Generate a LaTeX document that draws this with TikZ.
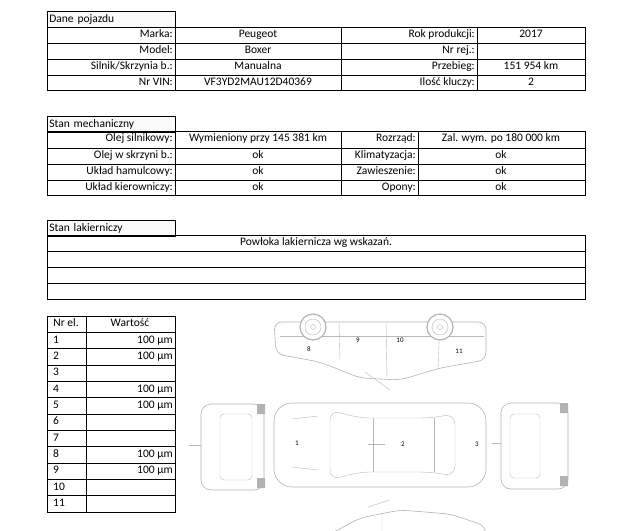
\documentclass[tikz,border=0pt]{standalone}
\usepackage{fontspec}
\setmainfont{Carlito}
\usetikzlibrary{positioning}

\begin{document}
\begin{tikzpicture}[x=1pt, y=-1pt,
    every node/.style={font=\fontsize{11.5}{12}\selectfont, inner sep=1pt, text height=1.6ex, text depth=0.4ex},
    grid/.style={line width=0.7pt},
    hdr/.style={draw, grid, fill=gray!4, anchor=north west, minimum width=128pt, minimum height=16pt, text width=124pt, align=left},
    lab/.style={anchor=east},
    val/.style={anchor=center},
    car/.style={draw=gray!60, line width=0.6pt, rounded corners=8pt},
    carl/.style={draw=gray!55, line width=0.4pt},
    num/.style={font=\fontsize{7}{8}\selectfont},
]
\useasboundingbox (0,0) rectangle (631,530);

% Dane pojazdu
\node[hdr] (hdane) at (47,11) {Dane pojazdu};
\draw[grid] (47,27) rectangle (585,90);
\foreach \y in {43,59,75} \draw[grid] (47,\y) -- (585,\y);
\foreach \x in {175,341,477} \draw[grid] (\x,27) -- (\x,90);
\node[lab] (marka) at (174,35) {Marka:};
\node[lab] (model) at (174,51) {Model:};
\node[lab] (silnik) at (174,67) {Silnik/Skrzynia b.:};
\node[lab] (vin) at (174,83) {Nr VIN:};
\node[val] (vmarka) at (258,35) {Peugeot};
\node[val] (vmodel) at (258,51) {Boxer};
\node[val] (vsilnik) at (258,67) {Manualna};
\node[val] (vvin) at (258,83) {VF3YD2MAU12D40369};
\node[lab] (rok) at (476,35) {Rok produkcji:};
\node[lab] (nrrej) at (476,51) {Nr rej.:};
\node[lab] (przebieg) at (476,67) {Przebieg:};
\node[lab] (klucze) at (476,83) {Ilość kluczy:};
\node[val] (vrok) at (531,35) {2017};
\node[val] (vprzebieg) at (531,67) {151 954 km};
\node[val] (vklucze) at (531,83) {2};

% Stan mechaniczny
\node[hdr] (hmech) at (47,116) {Stan mechaniczny};
\draw[grid] (47,131) rectangle (585,195);
\foreach \y in {148,164,180} \draw[grid] (47,\y) -- (585,\y);
\foreach \x in {175,341,418} \draw[grid] (\x,131) -- (\x,195);
\node[lab] (olej) at (174,139) {Olej silnikowy:};
\node[lab] (skrzynia) at (174,156) {Olej w skrzyni b.:};
\node[lab] (hamulce) at (174,172) {Układ hamulcowy:};
\node[lab] (kierow) at (174,188) {Układ kierowniczy:};
\node[val] (volej) at (258,139) {Wymieniony przy 145 381 km};
\node[val] (vskrzynia) at (258,156) {ok};
\node[val] (vhamulce) at (258,172) {ok};
\node[val] (vkierow) at (258,188) {ok};
\node[lab] (rozrzad) at (417,139) {Rozrząd:};
\node[lab] (klima) at (417,156) {Klimatyzacja:};
\node[lab] (zawiesz) at (417,172) {Zawieszenie:};
\node[lab] (opony) at (417,188) {Opony:};
\node[val] (vrozrzad) at (501,139) {Zal. wym. po 180 000 km};
\node[val] (vklima) at (501,156) {ok};
\node[val] (vzawiesz) at (501,172) {ok};
\node[val] (vopony) at (501,188) {ok};

% Stan lakierniczy
\node[hdr] (hlak) at (47,220) {Stan lakierniczy};
\draw[grid] (47,235) rectangle (585,299);
\foreach \y in {251,267,283} \draw[grid] (47,\y) -- (585,\y);
\node[val] (powloka) at (316,243) {Powłoka lakiernicza wg wskazań.};

% Nr el. / Wartość
\draw[grid] (47,316) rectangle (175,512);
\draw[grid] (86,316) -- (86,512);
\foreach \i in {1,...,11} \draw[grid] (47,{316+\i*16.33}) -- (175,{316+\i*16.33});
\node[val] (nrel) at (66,324) {Nr el.};
\node[val] (wart) at (130,324) {Wartość};
\foreach \i in {1,...,11}
  \node[anchor=west] (el\i) at (52,{324+\i*16.33}) {\i};
\foreach \i in {1,2,4,5,8,9}
  \node[anchor=east] (w\i) at (174,{324+\i*16.33}) {100 µm};

% side view (upside down)
\draw[car] (274,322) -- (486,322) -- (486,360) -- (440,368) -- (400,380) -- (360,378) -- (320,362) -- (276,354) -- cycle;
\draw[carl] (280,336) -- (484,336);
\draw[carl] (339,322) -- (340,360) (386,322) -- (387,378) (440,322) -- (438,368);
\draw[carl] (365,372) -- (390,390);
\foreach \cx in {313,440} {
  \draw[gray!60, fill=white, line width=1.2pt] (\cx,327) circle (13pt);
  \draw[gray!55] (\cx,327) circle (8pt) (\cx,327) circle (2.5pt);
}
\node[num] (s8) at (309,349) {8};
\node[num] (s9) at (358,340) {9};
\node[num] (s10) at (400,340) {10};
\node[num] (s11) at (459,351) {11};

% top view
\draw[car, rounded corners=18pt] (274,403) rectangle (486,487);
\draw[carl, rounded corners=10pt] (330,410) -- (360,418) -- (430,418) -- (455,414) -- (455,476) -- (430,472) -- (360,472) -- (330,480) -- cycle;
\draw[carl] (373,418) -- (373,472) (434,418) -- (434,472);
\draw[carl] (292,419) -- (318,416) (292,467) -- (318,470);
\draw[carl] (368,444) -- (385,444);
\node[num] (t1) at (297,443) {1};
\node[num] (t2) at (403,444) {2};
\node[num] (t3) at (477,444) {3};

% front and rear views
\draw[car, rounded corners=10pt] (201,404) rectangle (264,490);
\draw[carl, rounded corners=4pt] (220,414) rectangle (252,480);
\draw[fill=gray!60, draw=none] (257,404) rectangle (265,414) (257,478) rectangle (265,488);
\draw[carl] (189,445) -- (201,445);
\draw[car, rounded corners=10pt] (501,403) rectangle (568,489);
\draw[carl, rounded corners=4pt] (510,414) rectangle (540,478);
\draw[fill=gray!60, draw=none] (560,403) rectangle (568,413) (560,476) rectangle (568,486);
\draw[carl] (492,443) -- (501,443);

% bottom side view (cut off)
\draw[car] (330,534) -- (360,518) -- (400,510) -- (450,514) -- (486,526) -- (486,534);
\draw[carl] (368,507) -- (390,500) (382,512) -- (382,534);
\end{tikzpicture}
\end{document}
